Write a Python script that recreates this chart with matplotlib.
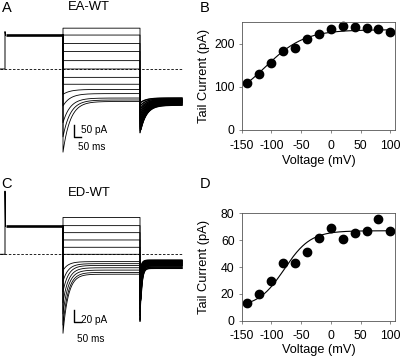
import numpy as np
import matplotlib
matplotlib.use('Agg')
import matplotlib.pyplot as plt

plt.rcParams['font.family'] = ['Liberation Sans', 'DejaVu Sans']
plt.rcParams['axes.unicode_minus'] = False

# ---------------- data ----------------
voltage = [-140, -120, -100, -80, -60, -40, -20, 0, 20, 40, 60, 80, 100]
tail_B = [109, 129, 156, 184, 191, 212, 222, 235, 241, 239, 237, 234, 227]
tail_D = [12.9, 19.6, 29.3, 43.3, 42.7, 50.9, 61.9, 69.3, 60.6, 65.6, 66.8, 75.8, 66.8]
# Boltzmann fit parameters (imin, imax, v_half, slope)
fit_B = (60, 233, -110, 33)
fit_D = (10, 67, -78, 22)
xticks = [-150, -100, -50, 0, 50, 100]
yticks_B = [0, 100, 200]
yticks_D = [0, 20, 40, 60, 80]

# Current traces (pA): holding level, step steady levels, onset dips, tail levels, tail dips
hold_A, hold_peak_A = 138, 152
step_A = [166, 138, 104, 71, 34, 0, -34, -62, -83, -100, -118, -126, -132]
step_dip_A = [0, 0, 0, 0, 0, 0, 0, 0, -20, -50, -100, -150, -206]
tail_A = [-118, -121, -124, -126, -128, -130, -132, -134, -136, -138, -141, -144, -147]
tail_dip_A = [-20, -30, -40, -50, -60, -70, -80, -90, -100, -105, -110, -115, -113]
tau_A, tail_tau_A = 55, 45

hold_C, hold_peak_C = 48, 108
step_C = [63, 49, 37, 24.5, 12, 0, -12.5, -16, -19, -23, -27, -31, -34]
step_dip_C = [0, 0, 0, 0, 0, 0, -15, -30, -45, -60, -75, -90, -101]
tail_C = [-10, -11, -12, -13, -14, -15, -16, -17, -18, -19, -20, -22, -24]
tail_dip_C = [-20, -30, -40, -50, -55, -60, -65, -70, -75, -80, -85, -90, -91]
tau_C, tail_tau_C = 40, 12

# protocol (ms)
t_pre, t_hold, t_step, t_tail = 37.5, 435, 577.5, 315

# ---------------- layout ----------------
W, H = 400, 357
fig = plt.figure(figsize=(W / 100, H / 100), dpi=100)
MS_PER_PX = 7.5


def fx(px):
    return px / W


def fy(py):
    return 1 - py / H


def px_axes(left, top, right, bottom):
    return fig.add_axes([left / W, 1 - bottom / H, (right - left) / W, (bottom - top) / H])


def trace_panel(top, bottom, y0, pa_per_px, hold, hold_peak, steps, dips, tails, tdips,
                tau, ttau):
    ax = px_axes(0, top, 190, bottom)
    ax.set_xlim((0 - 5) * MS_PER_PX, (190 - 5) * MS_PER_PX)
    ax.set_ylim((y0 - bottom) * pa_per_px, (y0 - top) * pa_per_px)
    ax.axis('off')
    t_end = t_hold + t_step + t_tail
    # zero-current dashed line
    ax.plot([-t_pre, t_end], [0, 0], color='black', lw=0.6, dashes=(3, 2))
    # prepulse
    ax.plot([-t_pre, 0, 0, 4], [0, 0, hold_peak, hold], color='black', lw=0.7)
    ax.plot([4, t_hold], [hold, hold], color='black', lw=1.9, solid_capstyle='butt')
    ts = np.linspace(0, t_step, 300)
    tt = np.linspace(0, t_tail, 300)
    for L, D, TL, TD in zip(steps, dips, tails, tdips):
        Is = L + D * np.exp(-ts / tau)
        It = TL + TD * np.exp(-tt / ttau)
        t_all = np.concatenate([[t_hold], t_hold + ts, t_hold + t_step + tt])
        I_all = np.concatenate([[hold], Is, It])
        ax.plot(t_all, I_all, color='black', lw=0.6)
        ax.plot(t_hold + t_step + tt[6:], It[6:], color='black', lw=1.0)
    return ax


bx = (74 - 5) * MS_PER_PX

# ---------------- panel A ----------------
axA = trace_panel(15, 165, 69, 50 / 12.3, hold_A, hold_peak_A, step_A, step_dip_A,
                  tail_A, tail_dip_A, tau_A, tail_tau_A)
byA = (69 - 137) * (50 / 12.3)
axA.plot([bx, bx, bx + 50], [byA + 50, byA, byA], color='black', lw=1.0)
fig.text(fx(81), fy(130), '50 pA', fontsize=7.2, ha='left', va='center')
fig.text(fx(78), fy(147.3), '50 ms', fontsize=7.2, ha='left', va='center')

# ---------------- panel C ----------------
axC = trace_panel(180, 345, 254.3, 20 / 11.7, hold_C, hold_peak_C, step_C, step_dip_C,
                  tail_C, tail_dip_C, tau_C, tail_tau_C)
byC = (254.3 - 322) * (20 / 11.7)
axC.plot([bx, bx, bx + 50], [byC + 20, byC, byC], color='black', lw=1.0)
fig.text(fx(81), fy(320), '20 pA', fontsize=7.2, ha='left', va='center')
fig.text(fx(77), fy(339.3), '50 ms', fontsize=7.2, ha='left', va='center')


# ---------------- panels B and D ----------------
def boltz(v, p):
    imin, imax, vh, k = p
    return imin + (imax - imin) / (1 + np.exp((vh - v) / k))


def iv_panel(top, bottom, values, fit, yticks, ylim):
    ax = px_axes(241.5, top, 394.5, bottom)
    v = np.linspace(-145, 100, 300)
    ax.plot(v, boltz(v, fit), color='black', lw=0.8)
    ax.plot(voltage, values, 'o', color='black', ms=6, clip_on=False)
    ax.set_xlim(-150, 107)
    ax.set_ylim(*ylim)
    ax.set_xticks(xticks)
    ax.set_yticks(yticks)
    for s in ax.spines.values():
        s.set_color('#555555')
        s.set_linewidth(0.6)
    ax.tick_params(axis='both', length=2, width=0.5, color='#555555', labelsize=8.8)
    ax.tick_params(axis='x', pad=5)
    ax.tick_params(axis='y', pad=3)
    mid = (top + bottom) / 2
    fig.text(fx(204), fy(mid), 'Tail Current (pA)', rotation=90, fontsize=9.3,
             ha='center', va='center')
    return ax


axB = iv_panel(22, 130, tail_B, fit_B, yticks_B, (0, 251))
fig.text(fx(319), fy(161), 'Voltage (mV)', fontsize=9.2, ha='center', va='center')
axD = iv_panel(213.3, 320.7, tail_D, fit_D, yticks_D, (0, 80))
fig.text(fx(319), fy(349.5), 'Voltage (mV)', fontsize=9.2, ha='center', va='center')

# ---------------- labels ----------------
for lab, x, y in [('A', 1.5, 7.5), ('B', 200, 7.5), ('C', 1.5, 184), ('D', 200, 184)]:
    fig.text(fx(x), fy(y), lab, fontsize=10.5, ha='left', va='center')
fig.text(fx(89), fy(7.5), 'EA-WT', fontsize=9.4, ha='center', va='center')
fig.text(fx(89), fy(193.5), 'ED-WT', fontsize=9.4, ha='center', va='center')

fig.savefig('out.png', dpi=100)
